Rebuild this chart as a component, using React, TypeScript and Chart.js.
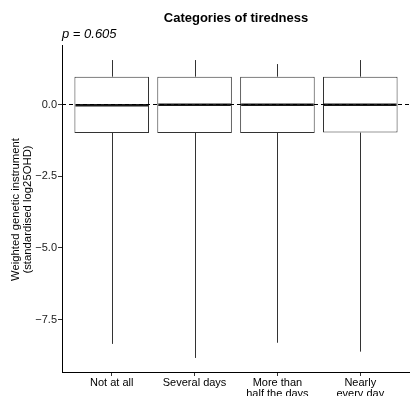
import React, { useEffect, useRef } from "react";
import { Chart, registerables } from "chart.js";

Chart.register(...registerables);

const categories: string[][] = [["Not at all"], ["Several days"], ["More than", "half the days"], ["Nearly", "every day"]];
const whiskerMax: number[] = [1.55, 1.55, 1.41, 1.55];
const q3: number[] = [0.97, 0.97, 0.97, 0.97];
const median: number[] = [-0.03, -0.005, -0.005, -0.005];
const q1: number[] = [-0.99, -0.99, -0.99, -0.98];
const whiskerMin: number[] = [-8.35, -8.84, -8.31, -8.62];
const yTicks: number[] = [0, -2.5, -5, -7.5];
const titleText = "Categories of tiredness";
const pText = "p = 0.605";
const yTitle: string[] = ["Weighted genetic instrument", "(standardised log25OHD)"];

const FONT = "'Liberation Sans', Arial, Helvetica, sans-serif";

export default function App() {
  const ref = useRef<HTMLCanvasElement | null>(null);
  useEffect(() => {
    if (!ref.current) return;
    Chart.defaults.font.family = FONT;
    const boxPlugin = {
      id: "boxExtras",
      beforeDatasetsDraw(chart: any) {
        const ctx = chart.ctx;
        const xs = chart.scales.x;
        const ys = chart.scales.y;
        ctx.save();
        ctx.strokeStyle = "#333333";
        ctx.lineWidth = 1;
        for (let i = 0; i < categories.length; i++) {
          const x = Math.round(xs.getPixelForValue(i + 1)) + 0.5;
          ctx.beginPath();
          ctx.moveTo(x, ys.getPixelForValue(q3[i]));
          ctx.lineTo(x, ys.getPixelForValue(whiskerMax[i]));
          ctx.moveTo(x, ys.getPixelForValue(q1[i]));
          ctx.lineTo(x, ys.getPixelForValue(whiskerMin[i]));
          ctx.stroke();
        }
        ctx.restore();
      },
      afterDatasetsDraw(chart: any) {
        const ctx = chart.ctx;
        const ys = chart.scales.y;
        const meta = chart.getDatasetMeta(0);
        ctx.save();
        ctx.strokeStyle = "#1a1a1a";
        ctx.lineWidth = 2.5;
        meta.data.forEach((bar: any, i: number) => {
          const half = bar.width / 2;
          const y = ys.getPixelForValue(median[i]);
          ctx.beginPath();
          ctx.moveTo(bar.x - half + 1, y);
          ctx.lineTo(bar.x + half - 1, y);
          ctx.stroke();
        });
        const y0 = Math.round(ys.getPixelForValue(0)) + 0.5;
        ctx.strokeStyle = "#000000";
        ctx.lineWidth = 1;
        ctx.setLineDash([4, 3]);
        ctx.beginPath();
        ctx.moveTo(chart.chartArea.left, y0);
        ctx.lineTo(chart.chartArea.right, y0);
        ctx.stroke();
        ctx.restore();
      },
      afterDraw(chart: any) {
        const ctx = chart.ctx;
        const ca = chart.chartArea;
        ctx.save();
        ctx.fillStyle = "#000000";
        ctx.textAlign = "center";
        ctx.textBaseline = "middle";
        ctx.font = `bold 13px ${FONT}`;
        ctx.fillText(titleText, (ca.left + ca.right) / 2, 18.5);
        ctx.textAlign = "left";
        ctx.font = `italic 13px ${FONT}`;
        ctx.fillText(pText, ca.left, 34.5);
        ctx.translate(21.5, (ca.top + ca.bottom) / 2 + 1);
        ctx.rotate(-Math.PI / 2);
        ctx.textAlign = "center";
        ctx.font = `11.3px ${FONT}`;
        ctx.fillText(yTitle[0], 0, -6);
        ctx.fillText(yTitle[1], 0, 6.5);
        ctx.restore();
      },
    };

    const chart = new Chart(ref.current, {
      type: "bar",
      data: {
        datasets: [
          {
            data: categories.map((_, i) => ({ x: i + 1, y: [q1[i], q3[i]] })) as any,
            backgroundColor: "#ffffff",
            borderColor: "#333333",
            borderWidth: 1,
            borderSkipped: false,
            barPercentage: 0.9,
            categoryPercentage: 1,
          },
        ],
      },
      options: {
        animation: false,
        responsive: false,
        events: [],
        layout: { padding: { top: 45, left: 0, right: 0, bottom: 0 } },
        plugins: { legend: { display: false }, tooltip: { enabled: false }, title: { display: false } },
        scales: {
          x: {
            type: "linear",
            min: 0.4,
            max: 4.6,
            offset: false,
            afterBuildTicks: (s: any) => {
              s.ticks = categories.map((_, i) => ({ value: i + 1 }));
            },
            afterFit: (s: any) => {
              s.height = 24;
            },
            ticks: {
              autoSkip: false,
              maxRotation: 0,
              padding: 1,
              color: "#000000",
              font: { size: 11, family: FONT, lineHeight: 1.05 },
              callback: (v: any) => categories[Math.round(Number(v)) - 1] as any,
            },
            grid: { display: true, offset: false, drawOnChartArea: false, drawTicks: true, tickLength: 4, tickColor: "#333333" },
            border: { display: true, color: "#000000", width: 1 },
          },
          y: {
            type: "linear",
            min: -9.33,
            max: 2.075,
            afterBuildTicks: (s: any) => {
              s.ticks = yTicks.map((v) => ({ value: v }));
            },
            afterFit: (s: any) => {
              s.width = 62;
            },
            ticks: {
              padding: 1,
              color: "#1a1a1a",
              font: { size: 11, family: FONT },
              callback: (v: any) => {
                const n = Number(v);
                return n === 0 ? "0.0" : (n < 0 ? "\u2212" : "") + Math.abs(n).toFixed(1);
              },
            },
            grid: { display: true, drawOnChartArea: false, drawTicks: true, tickLength: 4, tickColor: "#333333" },
            border: { display: true, color: "#000000", width: 1 },
          },
        },
      },
      plugins: [boxPlugin],
    });
    return () => chart.destroy();
  }, []);
  return (
    <div style={{ position: "absolute", left: 0, top: 0, width: 410, height: 396, background: "#ffffff" }}>
      <canvas ref={ref} width={410} height={396} />
    </div>
  );
}
